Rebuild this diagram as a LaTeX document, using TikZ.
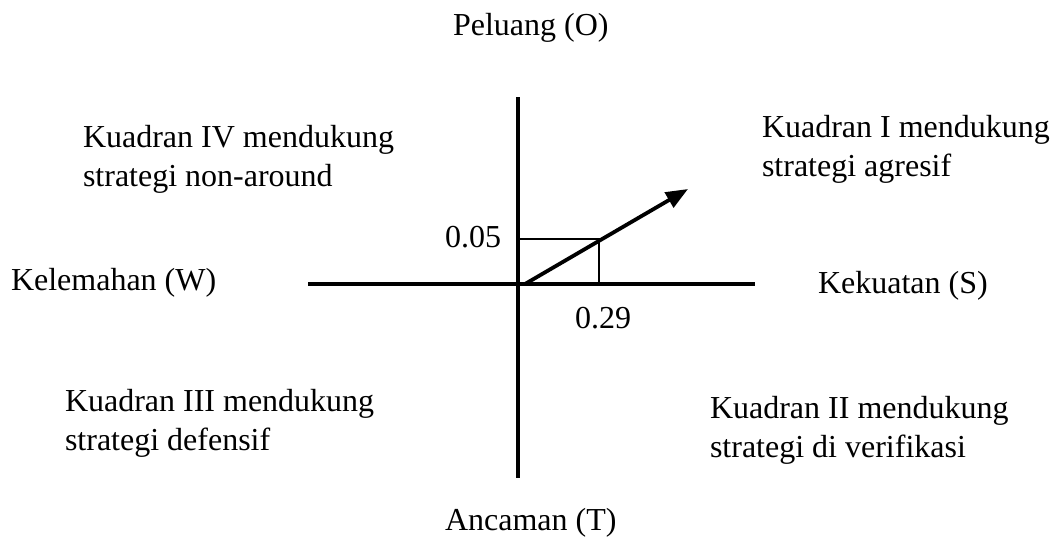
\documentclass[tikz,border=0pt]{standalone}
\usepackage{fontspec}
\setmainfont{Liberation Serif}
\usetikzlibrary{arrows.meta}
\tikzset{
  lbl/.style={inner sep=0pt, outer sep=0pt, anchor=base west, align=left, font=\fontsize{32}{39}\selectfont},
  axis/.style={line width=3.4pt},
  thinbox/.style={line width=2.4pt},
  vec/.style={line width=3.8pt, -{Triangle[length=22pt,width=17pt]}}
}
\begin{document}
\begin{tikzpicture}[x=1pt,y=-1pt]
\useasboundingbox (0,0) rectangle (1051,541);
% axes
\coordinate (top) at (518,97);
\coordinate (bot) at (518,478);
\coordinate (lft) at (308,284);
\coordinate (rgt) at (755,284);
\coordinate (o) at (518,284);
\coordinate (vs) at (525,284);
\coordinate (ve) at (688,189);
\coordinate (bx) at (599,239);
\coordinate (bxl) at (518,239);
\coordinate (bxb) at (599,284);
\draw[axis] (top) -- (bot);
\draw[axis] (lft) -- (rgt);
\draw[thinbox] (bxl) -- (bx) -- (bxb);
\draw[vec] (vs) -- (ve);
% labels
\node[lbl] (peluang) at (453,35) {Peluang (O)};
\node[lbl] (ancaman) at (445,530) {Ancaman (T)};
\node[lbl] (kelemahan) at (11,290) {Kelemahan (W)};
\node[lbl] (kekuatan) at (818,293) {Kekuatan (S)};
\node[lbl] (v005) at (445,247) {0.05};
\node[lbl] (v029) at (575,328) {0.29};
\node[lbl] (q4) at (83,186) {Kuadran IV mendukung\\strategi non-around};
\node[lbl] (q1) at (762,176) {Kuadran I mendukung\\strategi agresif};
\node[lbl] (q3) at (65,450) {Kuadran III mendukung\\strategi defensif};
\node[lbl] (q2) at (710,457) {Kuadran II mendukung\\strategi di verifikasi};
\end{tikzpicture}
\end{document}
